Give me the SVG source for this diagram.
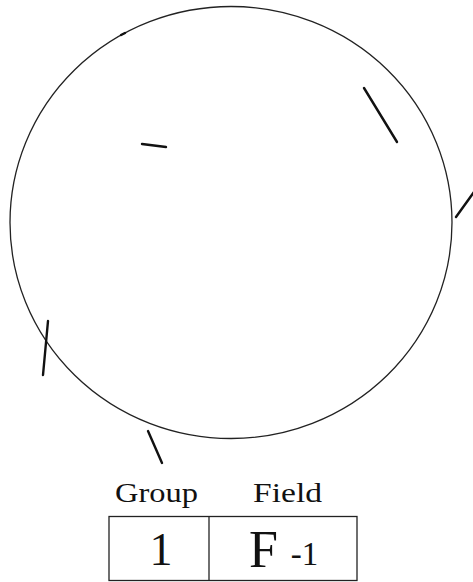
<svg xmlns="http://www.w3.org/2000/svg" width="473" height="582" viewBox="0 0 473 582">
<style>
.c{fill:none;stroke:#222;stroke-width:1.3}
.m{stroke:#111;stroke-width:2.4;stroke-linecap:round;fill:none}
.b{fill:#fff;stroke:#222;stroke-width:1.3}
text{font-family:"Liberation Serif","DejaVu Serif",serif;fill:#111}
</style>
<g id="circle">
<ellipse class="c" cx="231" cy="222.5" rx="221" ry="216"/>
</g>
<g id="marks">
<line class="m" x1="121" y1="35" x2="125" y2="33" stroke-width="1.6"/>
<line class="m" x1="364" y1="88" x2="397" y2="142"/>
<line class="m" x1="456" y1="217" x2="474" y2="192"/>
<line class="m" x1="142" y1="144" x2="166" y2="147"/>
<line class="m" x1="48" y1="321" x2="43" y2="375"/>
<line class="m" x1="148" y1="431" x2="162" y2="463"/>
</g>
<g id="labels">
<text x="156.5" y="502" font-size="27" text-anchor="middle" textLength="83" lengthAdjust="spacingAndGlyphs">Group</text>
<text x="287.5" y="502" font-size="27" text-anchor="middle" textLength="69" lengthAdjust="spacingAndGlyphs">Field</text>
</g>
<g id="table">
<rect class="b" x="109" y="516.5" width="248" height="64"/>
<line class="c" x1="209" y1="516.5" x2="209" y2="580.5"/>
<text x="161" y="564.5" font-size="46" text-anchor="middle">1</text>
<text x="263.5" y="566.5" font-size="52" text-anchor="middle">F</text>
<text x="304.5" y="565" font-size="33" text-anchor="middle">-1</text>
</g>
</svg>
